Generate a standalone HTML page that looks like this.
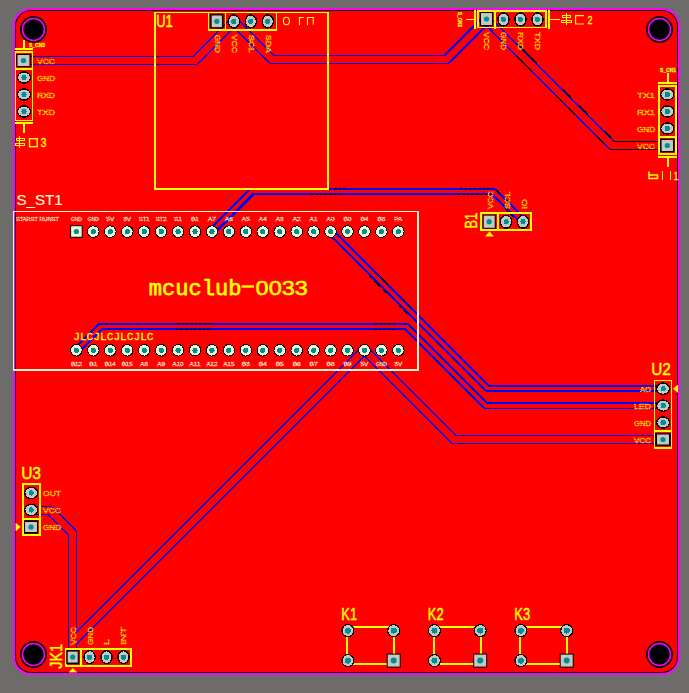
<!DOCTYPE html>
<html><head><meta charset="utf-8"><style>
html,body{margin:0;padding:0;background:#6e6c6b;overflow:hidden}
svg{display:block}
</style></head><body>
<svg width="689" height="693" viewBox="0 0 689 693">
<rect x="0" y="0" width="689" height="693" fill="#6e6c6b"/>
<rect x="13" y="8" width="667" height="667" rx="18" ry="18" fill="#ff00ff"/>
<rect x="15" y="10" width="663" height="663" rx="16" ry="16" fill="#000"/>
<rect x="16" y="11" width="661" height="661" rx="15" ry="15" fill="#ff0000"/>
<path d="M24.00,60.50 L195.00,60.50 L234.00,21.50 L272.00,59.50 L446.50,59.50 L486.50,19.50 L612.00,145.50 L667.50,145.50" fill="none" stroke="#0000ff" stroke-width="9" shape-rendering="crispEdges"/>
<line x1="195.00" y1="60.50" x2="234.00" y2="21.50" stroke="#0000ff" stroke-width="9.9" shape-rendering="crispEdges"/>
<line x1="234.00" y1="21.50" x2="272.00" y2="59.50" stroke="#0000ff" stroke-width="9.9" shape-rendering="crispEdges"/>
<line x1="446.50" y1="59.50" x2="486.50" y2="19.50" stroke="#0000ff" stroke-width="9.9" shape-rendering="crispEdges"/>
<line x1="486.50" y1="19.50" x2="612.00" y2="145.50" stroke="#0000ff" stroke-width="9.9" shape-rendering="crispEdges"/>
<path d="M211.96,231.50 L251.96,191.50 L493.20,191.50 L523.20,221.50" fill="none" stroke="#0000ff" stroke-width="7" shape-rendering="crispEdges"/>
<line x1="211.96" y1="231.50" x2="251.96" y2="191.50" stroke="#0000ff" stroke-width="7.9" shape-rendering="crispEdges"/>
<line x1="493.20" y1="191.50" x2="523.20" y2="221.50" stroke="#0000ff" stroke-width="7.9" shape-rendering="crispEdges"/>
<path d="M330.58,231.50 L487.58,388.50 L663.00,388.50" fill="none" stroke="#0000ff" stroke-width="7" shape-rendering="crispEdges"/>
<line x1="330.58" y1="231.50" x2="487.58" y2="388.50" stroke="#0000ff" stroke-width="7.9" shape-rendering="crispEdges"/>
<path d="M76.40,350.30 L100.20,326.50 L406.60,326.50 L485.80,405.70 L663.00,405.70" fill="none" stroke="#0000ff" stroke-width="7" shape-rendering="crispEdges"/>
<line x1="76.40" y1="350.30" x2="100.20" y2="326.50" stroke="#0000ff" stroke-width="7.9" shape-rendering="crispEdges"/>
<line x1="406.60" y1="326.50" x2="485.80" y2="405.70" stroke="#0000ff" stroke-width="7.9" shape-rendering="crispEdges"/>
<path d="M364.47,350.30 L453.67,439.50 L663.00,439.50" fill="none" stroke="#0000ff" stroke-width="9" shape-rendering="crispEdges"/>
<line x1="364.47" y1="350.30" x2="453.67" y2="439.50" stroke="#0000ff" stroke-width="9.9" shape-rendering="crispEdges"/>
<path d="M364.47,350.30 L72.50,642.27 L72.50,657.50" fill="none" stroke="#0000ff" stroke-width="9" shape-rendering="crispEdges"/>
<line x1="364.47" y1="350.30" x2="72.50" y2="642.27" stroke="#0000ff" stroke-width="9.9" shape-rendering="crispEdges"/>
<path d="M31.00,510.00 L49.50,510.00 L72.50,533.00 L72.50,657.50" fill="none" stroke="#0000ff" stroke-width="9" shape-rendering="crispEdges"/>
<line x1="49.50" y1="510.00" x2="72.50" y2="533.00" stroke="#0000ff" stroke-width="9.9" shape-rendering="crispEdges"/>
<rect x="612" y="141" width="48" height="1" fill="#000"/>
<rect x="610" y="149" width="50" height="1" fill="#000"/>
<line x1="177.0" y1="323.5" x2="179.5" y2="323.5" stroke="#000" stroke-width="1"/>
<line x1="181.5" y1="323.5" x2="184.0" y2="323.5" stroke="#000" stroke-width="1"/>
<line x1="186.0" y1="323.5" x2="188.5" y2="323.5" stroke="#000" stroke-width="1"/>
<line x1="190.5" y1="323.5" x2="193.0" y2="323.5" stroke="#000" stroke-width="1"/>
<line x1="195.0" y1="323.5" x2="197.5" y2="323.5" stroke="#000" stroke-width="1"/>
<line x1="199.5" y1="323.5" x2="202.0" y2="323.5" stroke="#000" stroke-width="1"/>
<line x1="204.0" y1="323.5" x2="206.5" y2="323.5" stroke="#000" stroke-width="1"/>
<line x1="208.5" y1="323.5" x2="211.0" y2="323.5" stroke="#000" stroke-width="1"/>
<line x1="176.0" y1="329.5" x2="178.5" y2="329.5" stroke="#000" stroke-width="1"/>
<line x1="180.5" y1="329.5" x2="183.0" y2="329.5" stroke="#000" stroke-width="1"/>
<line x1="185.0" y1="329.5" x2="187.5" y2="329.5" stroke="#000" stroke-width="1"/>
<line x1="189.5" y1="329.5" x2="192.0" y2="329.5" stroke="#000" stroke-width="1"/>
<line x1="194.0" y1="329.5" x2="196.5" y2="329.5" stroke="#000" stroke-width="1"/>
<line x1="198.5" y1="329.5" x2="201.0" y2="329.5" stroke="#000" stroke-width="1"/>
<line x1="203.0" y1="329.5" x2="205.5" y2="329.5" stroke="#000" stroke-width="1"/>
<line x1="207.5" y1="329.5" x2="210.0" y2="329.5" stroke="#000" stroke-width="1"/>
<line x1="375.0" y1="323.5" x2="377.5" y2="323.5" stroke="#000" stroke-width="1"/>
<line x1="379.5" y1="323.5" x2="382.0" y2="323.5" stroke="#000" stroke-width="1"/>
<line x1="384.0" y1="323.5" x2="386.5" y2="323.5" stroke="#000" stroke-width="1"/>
<line x1="388.5" y1="323.5" x2="391.0" y2="323.5" stroke="#000" stroke-width="1"/>
<line x1="393.0" y1="323.5" x2="395.5" y2="323.5" stroke="#000" stroke-width="1"/>
<line x1="374.0" y1="329.5" x2="376.5" y2="329.5" stroke="#000" stroke-width="1"/>
<line x1="378.5" y1="329.5" x2="381.0" y2="329.5" stroke="#000" stroke-width="1"/>
<line x1="383.0" y1="329.5" x2="385.5" y2="329.5" stroke="#000" stroke-width="1"/>
<line x1="387.5" y1="329.5" x2="390.0" y2="329.5" stroke="#000" stroke-width="1"/>
<line x1="392.0" y1="329.5" x2="394.5" y2="329.5" stroke="#000" stroke-width="1"/>
<line x1="334.0" y1="188.5" x2="336.5" y2="188.5" stroke="#000" stroke-width="1"/>
<line x1="338.5" y1="188.5" x2="341.0" y2="188.5" stroke="#000" stroke-width="1"/>
<line x1="343.0" y1="188.5" x2="345.5" y2="188.5" stroke="#000" stroke-width="1"/>
<line x1="460.0" y1="188.5" x2="462.5" y2="188.5" stroke="#000" stroke-width="1"/>
<line x1="464.5" y1="188.5" x2="467.0" y2="188.5" stroke="#000" stroke-width="1"/>
<line x1="469.0" y1="188.5" x2="471.5" y2="188.5" stroke="#000" stroke-width="1"/>
<line x1="473.5" y1="188.5" x2="476.0" y2="188.5" stroke="#000" stroke-width="1"/>
<line x1="478.0" y1="188.5" x2="480.5" y2="188.5" stroke="#000" stroke-width="1"/>
<line x1="482.5" y1="188.5" x2="485.0" y2="188.5" stroke="#000" stroke-width="1"/>
<line x1="487.0" y1="188.5" x2="489.5" y2="188.5" stroke="#000" stroke-width="1"/>
<line x1="311.0" y1="194.5" x2="313.5" y2="194.5" stroke="#000" stroke-width="1"/>
<line x1="315.5" y1="194.5" x2="318.0" y2="194.5" stroke="#000" stroke-width="1"/>
<line x1="320.0" y1="194.5" x2="322.5" y2="194.5" stroke="#000" stroke-width="1"/>
<line x1="324.5" y1="194.5" x2="327.0" y2="194.5" stroke="#000" stroke-width="1"/>
<line x1="329.0" y1="194.5" x2="331.5" y2="194.5" stroke="#000" stroke-width="1"/>
<line x1="333.5" y1="194.5" x2="336.0" y2="194.5" stroke="#000" stroke-width="1"/>
<line x1="338.0" y1="194.5" x2="340.5" y2="194.5" stroke="#000" stroke-width="1"/>
<line x1="458.0" y1="194.5" x2="460.5" y2="194.5" stroke="#000" stroke-width="1"/>
<line x1="462.5" y1="194.5" x2="465.0" y2="194.5" stroke="#000" stroke-width="1"/>
<line x1="467.0" y1="194.5" x2="469.5" y2="194.5" stroke="#000" stroke-width="1"/>
<line x1="471.5" y1="194.5" x2="474.0" y2="194.5" stroke="#000" stroke-width="1"/>
<line x1="476.0" y1="194.5" x2="478.5" y2="194.5" stroke="#000" stroke-width="1"/>
<line x1="480.5" y1="194.5" x2="483.0" y2="194.5" stroke="#000" stroke-width="1"/>
<line x1="485.0" y1="194.5" x2="487.5" y2="194.5" stroke="#000" stroke-width="1"/>
<line x1="517" y1="43.60000000000002" x2="537" y2="63.60000000000002" stroke="#000" stroke-width="1.2" shape-rendering="crispEdges"/>
<line x1="563" y1="89.60000000000002" x2="571" y2="97.60000000000002" stroke="#000" stroke-width="1.2" shape-rendering="crispEdges"/>
<line x1="579" y1="105.60000000000002" x2="588" y2="114.60000000000002" stroke="#000" stroke-width="1.2" shape-rendering="crispEdges"/>
<line x1="605" y1="131.60000000000002" x2="612" y2="138.60000000000002" stroke="#000" stroke-width="1.2" shape-rendering="crispEdges"/>
<line x1="517" y1="56.39999999999998" x2="531" y2="70.39999999999998" stroke="#000" stroke-width="1.2" shape-rendering="crispEdges"/>
<line x1="556" y1="95.39999999999998" x2="562" y2="101.39999999999998" stroke="#000" stroke-width="1.2" shape-rendering="crispEdges"/>
<line x1="568" y1="107.39999999999998" x2="575" y2="114.39999999999998" stroke="#000" stroke-width="1.2" shape-rendering="crispEdges"/>
<line x1="598" y1="137.39999999999998" x2="603" y2="142.39999999999998" stroke="#000" stroke-width="1.2" shape-rendering="crispEdges"/>
<line x1="369" y1="275.4" x2="371" y2="277.4" stroke="#000" stroke-width="1.2" shape-rendering="crispEdges"/>
<line x1="374" y1="280.4" x2="380" y2="286.4" stroke="#000" stroke-width="1.2" shape-rendering="crispEdges"/>
<line x1="383" y1="289.4" x2="386" y2="292.4" stroke="#000" stroke-width="1.2" shape-rendering="crispEdges"/>
<line x1="399" y1="305.4" x2="401" y2="307.4" stroke="#000" stroke-width="1.2" shape-rendering="crispEdges"/>
<line x1="404" y1="310.4" x2="407" y2="313.4" stroke="#000" stroke-width="1.2" shape-rendering="crispEdges"/>
<line x1="377" y1="273.4" x2="378.5" y2="274.9" stroke="#000" stroke-width="1.2" shape-rendering="crispEdges"/>
<line x1="381" y1="277.4" x2="388" y2="284.4" stroke="#000" stroke-width="1.2" shape-rendering="crispEdges"/>
<line x1="403" y1="299.4" x2="405" y2="301.4" stroke="#000" stroke-width="1.2" shape-rendering="crispEdges"/>
<line x1="408" y1="304.4" x2="410" y2="306.4" stroke="#000" stroke-width="1.2" shape-rendering="crispEdges"/>
<line x1="497" y1="190.39999999999998" x2="500" y2="193.39999999999998" stroke="#000" stroke-width="1.2" shape-rendering="crispEdges"/>
<line x1="506" y1="199.39999999999998" x2="509" y2="202.39999999999998" stroke="#000" stroke-width="1.2" shape-rendering="crispEdges"/>
<line x1="505" y1="208.3" x2="508" y2="211.3" stroke="#000" stroke-width="1.2" shape-rendering="crispEdges"/>
<line x1="510" y1="213.3" x2="513" y2="216.3" stroke="#000" stroke-width="1.2" shape-rendering="crispEdges"/>
<path d="M24.00,60.50 L195.00,60.50 L234.00,21.50 L272.00,59.50 L446.50,59.50 L486.50,19.50 L612.00,145.50 L667.50,145.50" fill="none" stroke="#ff0000" stroke-width="7" shape-rendering="crispEdges"/>
<path d="M211.96,231.50 L251.96,191.50 L493.20,191.50 L523.20,221.50" fill="none" stroke="#ff0000" stroke-width="3.6" shape-rendering="crispEdges"/>
<path d="M330.58,231.50 L487.58,388.50 L663.00,388.50" fill="none" stroke="#ff0000" stroke-width="3.6" shape-rendering="crispEdges"/>
<path d="M76.40,350.30 L100.20,326.50 L406.60,326.50 L485.80,405.70 L663.00,405.70" fill="none" stroke="#ff0000" stroke-width="3.6" shape-rendering="crispEdges"/>
<path d="M364.47,350.30 L453.67,439.50 L663.00,439.50" fill="none" stroke="#ff0000" stroke-width="7" shape-rendering="crispEdges"/>
<path d="M364.47,350.30 L72.50,642.27 L72.50,657.50" fill="none" stroke="#ff0000" stroke-width="7" shape-rendering="crispEdges"/>
<path d="M31.00,510.00 L49.50,510.00 L72.50,533.00 L72.50,657.50" fill="none" stroke="#ff0000" stroke-width="7" shape-rendering="crispEdges"/>
<circle cx="33.5" cy="29.5" r="13.5" fill="#000"/>
<circle cx="33.5" cy="29.5" r="11" fill="none" stroke="#ff00ff" stroke-width="1.6"/>
<circle cx="659.5" cy="29.5" r="13.5" fill="#000"/>
<circle cx="659.5" cy="29.5" r="11" fill="none" stroke="#ff00ff" stroke-width="1.6"/>
<circle cx="33.5" cy="654.5" r="13.5" fill="#000"/>
<circle cx="33.5" cy="654.5" r="11" fill="none" stroke="#ff00ff" stroke-width="1.6"/>
<circle cx="659.5" cy="654.5" r="13.5" fill="#000"/>
<circle cx="659.5" cy="654.5" r="11" fill="none" stroke="#ff00ff" stroke-width="1.6"/>
<rect x="15" y="51" width="18" height="2" fill="#ffff00"/>
<rect x="15" y="120" width="18" height="1" fill="#ffff00"/>
<rect x="15" y="51" width="1" height="70" fill="#ffff00"/>
<rect x="32" y="51" width="1" height="70" fill="#ffff00"/>
<rect x="15" y="68" width="18" height="2" fill="#ffff00"/>
<rect x="15" y="48" width="18" height="2" fill="#ffff00"/>
<rect x="23" y="40" width="2" height="8" fill="#ffff00"/>
<rect x="15" y="122" width="18" height="2" fill="#ffff00"/>
<rect x="23" y="124" width="2" height="9" fill="#ffff00"/>
<rect x="16.20" y="54.00" width="14.6" height="13" fill="#000"/>
<rect x="17.50" y="55.00" width="12" height="11" fill="#c6c6c6"/>
<circle cx="23.5" cy="60.5" r="2.6" fill="#008f8f"/>
<ellipse cx="24" cy="77.5" rx="7.2" ry="6.3" fill="#000" shape-rendering="crispEdges"/>
<ellipse cx="24" cy="77.5" rx="5.8" ry="5.0" fill="#c6c6c6" shape-rendering="crispEdges"/>
<circle cx="24" cy="77.5" r="2.6" fill="#008f8f" shape-rendering="crispEdges"/>
<ellipse cx="24" cy="94.5" rx="7.2" ry="6.3" fill="#000" shape-rendering="crispEdges"/>
<ellipse cx="24" cy="94.5" rx="5.8" ry="5.0" fill="#c6c6c6" shape-rendering="crispEdges"/>
<circle cx="24" cy="94.5" r="2.6" fill="#008f8f" shape-rendering="crispEdges"/>
<ellipse cx="24" cy="111.5" rx="7.2" ry="6.3" fill="#000" shape-rendering="crispEdges"/>
<ellipse cx="24" cy="111.5" rx="5.8" ry="5.0" fill="#c6c6c6" shape-rendering="crispEdges"/>
<circle cx="24" cy="111.5" r="2.6" fill="#008f8f" shape-rendering="crispEdges"/>
<text x="29" y="46.8" font-family="Liberation Sans" font-size="6.2" fill="#ffff00" text-anchor="start" font-weight="bold" stroke="#ffff00" stroke-width="0.3" textLength="16" lengthAdjust="spacingAndGlyphs">S_CN3</text>
<text x="37" y="63.8" font-family="Liberation Sans" font-size="7.6" fill="#ffff00" text-anchor="start" font-weight="normal" textLength="18" lengthAdjust="spacingAndGlyphs" fill-opacity="0.35" stroke="#ffff00" stroke-width="0.55" stroke-dasharray="1.1 0.9">VCC</text>
<text x="37" y="80.8" font-family="Liberation Sans" font-size="7.6" fill="#ffff00" text-anchor="start" font-weight="normal" textLength="18" lengthAdjust="spacingAndGlyphs" fill-opacity="0.35" stroke="#ffff00" stroke-width="0.55" stroke-dasharray="1.1 0.9">GND</text>
<text x="37" y="97.8" font-family="Liberation Sans" font-size="7.6" fill="#ffff00" text-anchor="start" font-weight="normal" textLength="18" lengthAdjust="spacingAndGlyphs" fill-opacity="0.35" stroke="#ffff00" stroke-width="0.55" stroke-dasharray="1.1 0.9">RXD</text>
<text x="37" y="114.8" font-family="Liberation Sans" font-size="7.6" fill="#ffff00" text-anchor="start" font-weight="normal" textLength="18" lengthAdjust="spacingAndGlyphs" fill-opacity="0.35" stroke="#ffff00" stroke-width="0.55" stroke-dasharray="1.1 0.9">TXD</text>
<rect x="19" y="136" width="1" height="12" fill="#ffff00"/>
<rect x="16" y="138" width="9" height="1" fill="#ffff00"/>
<rect x="16" y="140" width="9" height="1" fill="#ffff00"/>
<rect x="16" y="138" width="1" height="3" fill="#ffff00"/>
<rect x="24" y="138" width="1" height="3" fill="#ffff00"/>
<rect x="15" y="143" width="10" height="1" fill="#ffff00"/>
<rect x="15" y="145" width="10" height="1" fill="#ffff00"/>
<rect x="15" y="143" width="1" height="3" fill="#ffff00"/>
<rect x="24" y="143" width="1" height="3" fill="#ffff00"/>
<rect x="29.5" y="138.7" width="7.7" height="8" fill="none" stroke="#ffff00" stroke-width="1.4"/>
<text x="40.5" y="147.3" font-family="Liberation Sans" font-size="12.8" fill="#ffff00" text-anchor="start" font-weight="normal" stroke="#ffff00" stroke-width="0.35" textLength="6" lengthAdjust="spacingAndGlyphs">3</text>
<rect x="154" y="12" width="175" height="1" fill="#ffff00"/>
<rect x="154" y="188" width="175" height="2" fill="#ffff00"/>
<rect x="154" y="12" width="2" height="178" fill="#ffff00"/>
<rect x="327" y="12" width="2" height="178" fill="#ffff00"/>
<text x="156.2" y="27" font-family="Liberation Sans" font-size="16.5" fill="#ffff00" text-anchor="start" font-weight="normal" stroke="#ffff00" stroke-width="0.45" textLength="16.6" lengthAdjust="spacingAndGlyphs">U1</text>
<rect x="208" y="12" width="69" height="1" fill="#ffff00"/>
<rect x="208" y="29" width="69" height="2" fill="#ffff00"/>
<rect x="208" y="12" width="1" height="19" fill="#ffff00"/>
<rect x="276" y="12" width="1" height="19" fill="#ffff00"/>
<rect x="225" y="12" width="1" height="19" fill="#ffff00"/>
<rect x="210.15" y="14.10" width="13.3" height="14.4" fill="#000"/>
<rect x="211.65" y="15.45" width="10.3" height="11.7" fill="#c6c6c6"/>
<circle cx="216.8" cy="21.3" r="2.6" fill="#008f8f"/>
<ellipse cx="233.9" cy="21.4" rx="6.3" ry="7.2" fill="#000" shape-rendering="crispEdges"/>
<ellipse cx="233.9" cy="21.4" rx="5.0" ry="5.8" fill="#c6c6c6" shape-rendering="crispEdges"/>
<circle cx="233.9" cy="21.4" r="2.6" fill="#008f8f" shape-rendering="crispEdges"/>
<ellipse cx="250.8" cy="21.4" rx="6.3" ry="7.2" fill="#000" shape-rendering="crispEdges"/>
<ellipse cx="250.8" cy="21.4" rx="5.0" ry="5.8" fill="#c6c6c6" shape-rendering="crispEdges"/>
<circle cx="250.8" cy="21.4" r="2.6" fill="#008f8f" shape-rendering="crispEdges"/>
<ellipse cx="267.8" cy="21.4" rx="6.3" ry="7.2" fill="#000" shape-rendering="crispEdges"/>
<ellipse cx="267.8" cy="21.4" rx="5.0" ry="5.8" fill="#c6c6c6" shape-rendering="crispEdges"/>
<circle cx="267.8" cy="21.4" r="2.6" fill="#008f8f" shape-rendering="crispEdges"/>
<ellipse cx="286.4" cy="20.9" rx="3" ry="3.7" fill="none" stroke="#ffff00" stroke-width="1.1"/>
<path d="M303.8,17.5 L299.5,17.5 L299.5,25 M307.5,25 L307.5,17.5 L313.3,17.5 L313.3,24.5" fill="none" stroke="#ffff00" stroke-width="1.1"/>
<text x="215.4" y="34.8" font-family="Liberation Sans" font-size="8" fill="#ffff00" text-anchor="start" font-weight="normal" textLength="18" lengthAdjust="spacingAndGlyphs" fill-opacity="0.35" stroke="#ffff00" stroke-width="0.55" stroke-dasharray="1.1 0.9" transform="rotate(90 215.4 34.8)">GND</text>
<text x="232.4" y="34.8" font-family="Liberation Sans" font-size="8" fill="#ffff00" text-anchor="start" font-weight="normal" textLength="18" lengthAdjust="spacingAndGlyphs" fill-opacity="0.35" stroke="#ffff00" stroke-width="0.55" stroke-dasharray="1.1 0.9" transform="rotate(90 232.4 34.8)">VCC</text>
<text x="249.4" y="34.8" font-family="Liberation Sans" font-size="8" fill="#ffff00" text-anchor="start" font-weight="normal" textLength="18" lengthAdjust="spacingAndGlyphs" fill-opacity="0.35" stroke="#ffff00" stroke-width="0.55" stroke-dasharray="1.1 0.9" transform="rotate(90 249.4 34.8)">SCL</text>
<text x="266.4" y="34.8" font-family="Liberation Sans" font-size="8" fill="#ffff00" text-anchor="start" font-weight="normal" textLength="18" lengthAdjust="spacingAndGlyphs" fill-opacity="0.35" stroke="#ffff00" stroke-width="0.55" stroke-dasharray="1.1 0.9" transform="rotate(90 266.4 34.8)">SDA</text>
<rect x="477" y="10" width="70" height="2" fill="#ffff00"/>
<rect x="477" y="27" width="70" height="1" fill="#ffff00"/>
<rect x="477" y="10" width="2" height="18" fill="#ffff00"/>
<rect x="545" y="10" width="2" height="18" fill="#ffff00"/>
<rect x="494" y="10" width="2" height="19" fill="#ffff00"/>
<rect x="474" y="10" width="2" height="19" fill="#ffff00"/>
<rect x="466" y="19" width="8" height="1" fill="#ffff00"/>
<rect x="548" y="10" width="2" height="19" fill="#ffff00"/>
<rect x="550" y="19" width="10" height="1" fill="#ffff00"/>
<rect x="480.00" y="12.00" width="13" height="14" fill="#000"/>
<rect x="481.00" y="13.00" width="11" height="12" fill="#c6c6c6"/>
<circle cx="486.5" cy="19" r="2.6" fill="#008f8f"/>
<ellipse cx="503.5" cy="19.4" rx="6.3" ry="7.2" fill="#000" shape-rendering="crispEdges"/>
<ellipse cx="503.5" cy="19.4" rx="5.0" ry="5.8" fill="#c6c6c6" shape-rendering="crispEdges"/>
<circle cx="503.5" cy="19.4" r="2.6" fill="#008f8f" shape-rendering="crispEdges"/>
<ellipse cx="520.5" cy="19.4" rx="6.3" ry="7.2" fill="#000" shape-rendering="crispEdges"/>
<ellipse cx="520.5" cy="19.4" rx="5.0" ry="5.8" fill="#c6c6c6" shape-rendering="crispEdges"/>
<circle cx="520.5" cy="19.4" r="2.6" fill="#008f8f" shape-rendering="crispEdges"/>
<ellipse cx="537.5" cy="19.4" rx="6.3" ry="7.2" fill="#000" shape-rendering="crispEdges"/>
<ellipse cx="537.5" cy="19.4" rx="5.0" ry="5.8" fill="#c6c6c6" shape-rendering="crispEdges"/>
<circle cx="537.5" cy="19.4" r="2.6" fill="#008f8f" shape-rendering="crispEdges"/>
<rect x="566" y="13" width="1" height="12" fill="#ffff00"/>
<rect x="562" y="15" width="9" height="1" fill="#ffff00"/>
<rect x="562" y="17" width="9" height="1" fill="#ffff00"/>
<rect x="562" y="15" width="1" height="3" fill="#ffff00"/>
<rect x="570" y="15" width="1" height="3" fill="#ffff00"/>
<rect x="561" y="20" width="11" height="1" fill="#ffff00"/>
<rect x="561" y="22" width="11" height="1" fill="#ffff00"/>
<rect x="561" y="20" width="1" height="3" fill="#ffff00"/>
<rect x="571" y="20" width="1" height="3" fill="#ffff00"/>
<path d="M584.0,15.6 L575.6,15.6 L575.6,24.0 L584.0,24.0" fill="none" stroke="#ffff00" stroke-width="1.2"/>
<text x="587.6" y="24.4" font-family="Liberation Sans" font-size="11.8" fill="#ffff00" text-anchor="start" font-weight="normal" stroke="#ffff00" stroke-width="0.3" textLength="5" lengthAdjust="spacingAndGlyphs">2</text>
<text x="458" y="12" font-family="Liberation Sans" font-size="6.2" fill="#ffff00" text-anchor="start" font-weight="bold" stroke="#ffff00" stroke-width="0.3" textLength="15" lengthAdjust="spacingAndGlyphs" transform="rotate(90 458 12)">S_CN2</text>
<text x="483.7" y="32" font-family="Liberation Sans" font-size="8" fill="#ffff00" text-anchor="start" font-weight="normal" textLength="18" lengthAdjust="spacingAndGlyphs" fill-opacity="0.35" stroke="#ffff00" stroke-width="0.55" stroke-dasharray="1.1 0.9" transform="rotate(90 483.7 32)">VCC</text>
<text x="500.7" y="32" font-family="Liberation Sans" font-size="8" fill="#ffff00" text-anchor="start" font-weight="normal" textLength="18" lengthAdjust="spacingAndGlyphs" fill-opacity="0.35" stroke="#ffff00" stroke-width="0.55" stroke-dasharray="1.1 0.9" transform="rotate(90 500.7 32)">GND</text>
<text x="517.7" y="32" font-family="Liberation Sans" font-size="8" fill="#ffff00" text-anchor="start" font-weight="normal" textLength="18" lengthAdjust="spacingAndGlyphs" fill-opacity="0.35" stroke="#ffff00" stroke-width="0.55" stroke-dasharray="1.1 0.9" transform="rotate(90 517.7 32)">RXD</text>
<text x="534.7" y="32" font-family="Liberation Sans" font-size="8" fill="#ffff00" text-anchor="start" font-weight="normal" textLength="18" lengthAdjust="spacingAndGlyphs" fill-opacity="0.35" stroke="#ffff00" stroke-width="0.55" stroke-dasharray="1.1 0.9" transform="rotate(90 534.7 32)">TXD</text>
<rect x="658" y="85" width="19" height="2" fill="#ffff00"/>
<rect x="658" y="153" width="19" height="2" fill="#ffff00"/>
<rect x="658" y="85" width="2" height="70" fill="#ffff00"/>
<rect x="675" y="85" width="2" height="70" fill="#ffff00"/>
<rect x="658" y="136" width="19" height="2" fill="#ffff00"/>
<rect x="658" y="82" width="19" height="2" fill="#ffff00"/>
<rect x="667" y="73" width="2" height="9" fill="#ffff00"/>
<rect x="658" y="156" width="19" height="2" fill="#ffff00"/>
<rect x="667" y="158" width="2" height="9" fill="#ffff00"/>
<ellipse cx="667.3" cy="94.5" rx="7.2" ry="6.3" fill="#000" shape-rendering="crispEdges"/>
<ellipse cx="667.3" cy="94.5" rx="5.8" ry="5.0" fill="#c6c6c6" shape-rendering="crispEdges"/>
<circle cx="667.3" cy="94.5" r="2.6" fill="#008f8f" shape-rendering="crispEdges"/>
<ellipse cx="667.3" cy="111.5" rx="7.2" ry="6.3" fill="#000" shape-rendering="crispEdges"/>
<ellipse cx="667.3" cy="111.5" rx="5.8" ry="5.0" fill="#c6c6c6" shape-rendering="crispEdges"/>
<circle cx="667.3" cy="111.5" r="2.6" fill="#008f8f" shape-rendering="crispEdges"/>
<ellipse cx="667.3" cy="128.5" rx="7.2" ry="6.3" fill="#000" shape-rendering="crispEdges"/>
<ellipse cx="667.3" cy="128.5" rx="5.8" ry="5.0" fill="#c6c6c6" shape-rendering="crispEdges"/>
<circle cx="667.3" cy="128.5" r="2.6" fill="#008f8f" shape-rendering="crispEdges"/>
<rect x="660.05" y="138.75" width="14.5" height="13.5" fill="#000"/>
<rect x="661.60" y="140.00" width="11.4" height="11" fill="#c6c6c6"/>
<circle cx="667.3" cy="145.5" r="2.6" fill="#008f8f"/>
<text x="660" y="72" font-family="Liberation Sans" font-size="6.2" fill="#ffff00" text-anchor="start" font-weight="bold" stroke="#ffff00" stroke-width="0.3" textLength="16" lengthAdjust="spacingAndGlyphs">S_CN1</text>
<text x="655" y="97.8" font-family="Liberation Sans" font-size="7.6" fill="#ffff00" text-anchor="end" font-weight="normal" textLength="18" lengthAdjust="spacingAndGlyphs" fill-opacity="0.35" stroke="#ffff00" stroke-width="0.55" stroke-dasharray="1.1 0.9">TX1</text>
<text x="655" y="114.8" font-family="Liberation Sans" font-size="7.6" fill="#ffff00" text-anchor="end" font-weight="normal" textLength="18" lengthAdjust="spacingAndGlyphs" fill-opacity="0.35" stroke="#ffff00" stroke-width="0.55" stroke-dasharray="1.1 0.9">RX1</text>
<text x="655" y="131.8" font-family="Liberation Sans" font-size="7.6" fill="#ffff00" text-anchor="end" font-weight="normal" textLength="18" lengthAdjust="spacingAndGlyphs" fill-opacity="0.35" stroke="#ffff00" stroke-width="0.55" stroke-dasharray="1.1 0.9">GND</text>
<text x="655" y="148.8" font-family="Liberation Sans" font-size="7.6" fill="#ffff00" text-anchor="end" font-weight="normal" textLength="18" lengthAdjust="spacingAndGlyphs" fill-opacity="0.35" stroke="#ffff00" stroke-width="0.55" stroke-dasharray="1.1 0.9">VCC</text>
<path d="M649,171.5 L649,178.5 L657.5,178.5 L657.5,175 L649,175" fill="none" stroke="#ffff00" stroke-width="1.6"/>
<rect x="662" y="171" width="1" height="9" fill="#ffff00"/>
<rect x="670" y="171" width="1" height="9" fill="#ffff00"/>
<text x="673.5" y="179.5" font-family="Liberation Sans" font-size="11" fill="#ffff00" text-anchor="start" font-weight="normal" stroke="#ffff00" stroke-width="0.3" textLength="5" lengthAdjust="spacingAndGlyphs">1</text>
<rect x="13" y="211" width="406" height="1" fill="#eef5cf"/>
<rect x="13" y="369" width="406" height="2" fill="#eef5cf"/>
<rect x="13" y="211" width="1" height="160" fill="#eef5cf"/>
<rect x="417" y="211" width="2" height="160" fill="#eef5cf"/>
<text x="16.4" y="204.8" font-family="Liberation Sans" font-size="14.6" fill="#eef5cf" text-anchor="start" font-weight="normal" stroke="#eef5cf" stroke-width="0.15" textLength="46.4" lengthAdjust="spacingAndGlyphs">S_ST1</text>
<rect x="70.10" y="225.20" width="12.6" height="12.6" fill="#000"/>
<rect x="71.10" y="226.20" width="10.6" height="10.6" fill="#eef5cf"/>
<circle cx="76.4" cy="231.5" r="2.6" fill="#008f8f"/>
<ellipse cx="76.4" cy="350.3" rx="6.3" ry="6.3" fill="#000" shape-rendering="crispEdges"/>
<ellipse cx="76.4" cy="350.3" rx="5.3" ry="5.3" fill="#eef5cf" shape-rendering="crispEdges"/>
<circle cx="76.4" cy="350.3" r="2.6" fill="#008f8f" shape-rendering="crispEdges"/>
<ellipse cx="93.345" cy="231.6" rx="6.3" ry="6.3" fill="#000" shape-rendering="crispEdges"/>
<ellipse cx="93.345" cy="231.6" rx="5.3" ry="5.3" fill="#eef5cf" shape-rendering="crispEdges"/>
<circle cx="93.345" cy="231.6" r="2.6" fill="#008f8f" shape-rendering="crispEdges"/>
<ellipse cx="93.345" cy="350.3" rx="6.3" ry="6.3" fill="#000" shape-rendering="crispEdges"/>
<ellipse cx="93.345" cy="350.3" rx="5.3" ry="5.3" fill="#eef5cf" shape-rendering="crispEdges"/>
<circle cx="93.345" cy="350.3" r="2.6" fill="#008f8f" shape-rendering="crispEdges"/>
<ellipse cx="110.29" cy="231.6" rx="6.3" ry="6.3" fill="#000" shape-rendering="crispEdges"/>
<ellipse cx="110.29" cy="231.6" rx="5.3" ry="5.3" fill="#eef5cf" shape-rendering="crispEdges"/>
<circle cx="110.29" cy="231.6" r="2.6" fill="#008f8f" shape-rendering="crispEdges"/>
<ellipse cx="110.29" cy="350.3" rx="6.3" ry="6.3" fill="#000" shape-rendering="crispEdges"/>
<ellipse cx="110.29" cy="350.3" rx="5.3" ry="5.3" fill="#eef5cf" shape-rendering="crispEdges"/>
<circle cx="110.29" cy="350.3" r="2.6" fill="#008f8f" shape-rendering="crispEdges"/>
<ellipse cx="127.23500000000001" cy="231.6" rx="6.3" ry="6.3" fill="#000" shape-rendering="crispEdges"/>
<ellipse cx="127.23500000000001" cy="231.6" rx="5.3" ry="5.3" fill="#eef5cf" shape-rendering="crispEdges"/>
<circle cx="127.23500000000001" cy="231.6" r="2.6" fill="#008f8f" shape-rendering="crispEdges"/>
<ellipse cx="127.23500000000001" cy="350.3" rx="6.3" ry="6.3" fill="#000" shape-rendering="crispEdges"/>
<ellipse cx="127.23500000000001" cy="350.3" rx="5.3" ry="5.3" fill="#eef5cf" shape-rendering="crispEdges"/>
<circle cx="127.23500000000001" cy="350.3" r="2.6" fill="#008f8f" shape-rendering="crispEdges"/>
<ellipse cx="144.18" cy="231.6" rx="6.3" ry="6.3" fill="#000" shape-rendering="crispEdges"/>
<ellipse cx="144.18" cy="231.6" rx="5.3" ry="5.3" fill="#eef5cf" shape-rendering="crispEdges"/>
<circle cx="144.18" cy="231.6" r="2.6" fill="#008f8f" shape-rendering="crispEdges"/>
<ellipse cx="144.18" cy="350.3" rx="6.3" ry="6.3" fill="#000" shape-rendering="crispEdges"/>
<ellipse cx="144.18" cy="350.3" rx="5.3" ry="5.3" fill="#eef5cf" shape-rendering="crispEdges"/>
<circle cx="144.18" cy="350.3" r="2.6" fill="#008f8f" shape-rendering="crispEdges"/>
<ellipse cx="161.125" cy="231.6" rx="6.3" ry="6.3" fill="#000" shape-rendering="crispEdges"/>
<ellipse cx="161.125" cy="231.6" rx="5.3" ry="5.3" fill="#eef5cf" shape-rendering="crispEdges"/>
<circle cx="161.125" cy="231.6" r="2.6" fill="#008f8f" shape-rendering="crispEdges"/>
<ellipse cx="161.125" cy="350.3" rx="6.3" ry="6.3" fill="#000" shape-rendering="crispEdges"/>
<ellipse cx="161.125" cy="350.3" rx="5.3" ry="5.3" fill="#eef5cf" shape-rendering="crispEdges"/>
<circle cx="161.125" cy="350.3" r="2.6" fill="#008f8f" shape-rendering="crispEdges"/>
<ellipse cx="178.07" cy="231.6" rx="6.3" ry="6.3" fill="#000" shape-rendering="crispEdges"/>
<ellipse cx="178.07" cy="231.6" rx="5.3" ry="5.3" fill="#eef5cf" shape-rendering="crispEdges"/>
<circle cx="178.07" cy="231.6" r="2.6" fill="#008f8f" shape-rendering="crispEdges"/>
<ellipse cx="178.07" cy="350.3" rx="6.3" ry="6.3" fill="#000" shape-rendering="crispEdges"/>
<ellipse cx="178.07" cy="350.3" rx="5.3" ry="5.3" fill="#eef5cf" shape-rendering="crispEdges"/>
<circle cx="178.07" cy="350.3" r="2.6" fill="#008f8f" shape-rendering="crispEdges"/>
<ellipse cx="195.01500000000001" cy="231.6" rx="6.3" ry="6.3" fill="#000" shape-rendering="crispEdges"/>
<ellipse cx="195.01500000000001" cy="231.6" rx="5.3" ry="5.3" fill="#eef5cf" shape-rendering="crispEdges"/>
<circle cx="195.01500000000001" cy="231.6" r="2.6" fill="#008f8f" shape-rendering="crispEdges"/>
<ellipse cx="195.01500000000001" cy="350.3" rx="6.3" ry="6.3" fill="#000" shape-rendering="crispEdges"/>
<ellipse cx="195.01500000000001" cy="350.3" rx="5.3" ry="5.3" fill="#eef5cf" shape-rendering="crispEdges"/>
<circle cx="195.01500000000001" cy="350.3" r="2.6" fill="#008f8f" shape-rendering="crispEdges"/>
<ellipse cx="211.96" cy="231.6" rx="6.3" ry="6.3" fill="#000" shape-rendering="crispEdges"/>
<ellipse cx="211.96" cy="231.6" rx="5.3" ry="5.3" fill="#eef5cf" shape-rendering="crispEdges"/>
<circle cx="211.96" cy="231.6" r="2.6" fill="#008f8f" shape-rendering="crispEdges"/>
<ellipse cx="211.96" cy="350.3" rx="6.3" ry="6.3" fill="#000" shape-rendering="crispEdges"/>
<ellipse cx="211.96" cy="350.3" rx="5.3" ry="5.3" fill="#eef5cf" shape-rendering="crispEdges"/>
<circle cx="211.96" cy="350.3" r="2.6" fill="#008f8f" shape-rendering="crispEdges"/>
<ellipse cx="228.905" cy="231.6" rx="6.3" ry="6.3" fill="#000" shape-rendering="crispEdges"/>
<ellipse cx="228.905" cy="231.6" rx="5.3" ry="5.3" fill="#eef5cf" shape-rendering="crispEdges"/>
<circle cx="228.905" cy="231.6" r="2.6" fill="#008f8f" shape-rendering="crispEdges"/>
<ellipse cx="228.905" cy="350.3" rx="6.3" ry="6.3" fill="#000" shape-rendering="crispEdges"/>
<ellipse cx="228.905" cy="350.3" rx="5.3" ry="5.3" fill="#eef5cf" shape-rendering="crispEdges"/>
<circle cx="228.905" cy="350.3" r="2.6" fill="#008f8f" shape-rendering="crispEdges"/>
<ellipse cx="245.85" cy="231.6" rx="6.3" ry="6.3" fill="#000" shape-rendering="crispEdges"/>
<ellipse cx="245.85" cy="231.6" rx="5.3" ry="5.3" fill="#eef5cf" shape-rendering="crispEdges"/>
<circle cx="245.85" cy="231.6" r="2.6" fill="#008f8f" shape-rendering="crispEdges"/>
<ellipse cx="245.85" cy="350.3" rx="6.3" ry="6.3" fill="#000" shape-rendering="crispEdges"/>
<ellipse cx="245.85" cy="350.3" rx="5.3" ry="5.3" fill="#eef5cf" shape-rendering="crispEdges"/>
<circle cx="245.85" cy="350.3" r="2.6" fill="#008f8f" shape-rendering="crispEdges"/>
<ellipse cx="262.795" cy="231.6" rx="6.3" ry="6.3" fill="#000" shape-rendering="crispEdges"/>
<ellipse cx="262.795" cy="231.6" rx="5.3" ry="5.3" fill="#eef5cf" shape-rendering="crispEdges"/>
<circle cx="262.795" cy="231.6" r="2.6" fill="#008f8f" shape-rendering="crispEdges"/>
<ellipse cx="262.795" cy="350.3" rx="6.3" ry="6.3" fill="#000" shape-rendering="crispEdges"/>
<ellipse cx="262.795" cy="350.3" rx="5.3" ry="5.3" fill="#eef5cf" shape-rendering="crispEdges"/>
<circle cx="262.795" cy="350.3" r="2.6" fill="#008f8f" shape-rendering="crispEdges"/>
<ellipse cx="279.74" cy="231.6" rx="6.3" ry="6.3" fill="#000" shape-rendering="crispEdges"/>
<ellipse cx="279.74" cy="231.6" rx="5.3" ry="5.3" fill="#eef5cf" shape-rendering="crispEdges"/>
<circle cx="279.74" cy="231.6" r="2.6" fill="#008f8f" shape-rendering="crispEdges"/>
<ellipse cx="279.74" cy="350.3" rx="6.3" ry="6.3" fill="#000" shape-rendering="crispEdges"/>
<ellipse cx="279.74" cy="350.3" rx="5.3" ry="5.3" fill="#eef5cf" shape-rendering="crispEdges"/>
<circle cx="279.74" cy="350.3" r="2.6" fill="#008f8f" shape-rendering="crispEdges"/>
<ellipse cx="296.685" cy="231.6" rx="6.3" ry="6.3" fill="#000" shape-rendering="crispEdges"/>
<ellipse cx="296.685" cy="231.6" rx="5.3" ry="5.3" fill="#eef5cf" shape-rendering="crispEdges"/>
<circle cx="296.685" cy="231.6" r="2.6" fill="#008f8f" shape-rendering="crispEdges"/>
<ellipse cx="296.685" cy="350.3" rx="6.3" ry="6.3" fill="#000" shape-rendering="crispEdges"/>
<ellipse cx="296.685" cy="350.3" rx="5.3" ry="5.3" fill="#eef5cf" shape-rendering="crispEdges"/>
<circle cx="296.685" cy="350.3" r="2.6" fill="#008f8f" shape-rendering="crispEdges"/>
<ellipse cx="313.63" cy="231.6" rx="6.3" ry="6.3" fill="#000" shape-rendering="crispEdges"/>
<ellipse cx="313.63" cy="231.6" rx="5.3" ry="5.3" fill="#eef5cf" shape-rendering="crispEdges"/>
<circle cx="313.63" cy="231.6" r="2.6" fill="#008f8f" shape-rendering="crispEdges"/>
<ellipse cx="313.63" cy="350.3" rx="6.3" ry="6.3" fill="#000" shape-rendering="crispEdges"/>
<ellipse cx="313.63" cy="350.3" rx="5.3" ry="5.3" fill="#eef5cf" shape-rendering="crispEdges"/>
<circle cx="313.63" cy="350.3" r="2.6" fill="#008f8f" shape-rendering="crispEdges"/>
<ellipse cx="330.57500000000005" cy="231.6" rx="6.3" ry="6.3" fill="#000" shape-rendering="crispEdges"/>
<ellipse cx="330.57500000000005" cy="231.6" rx="5.3" ry="5.3" fill="#eef5cf" shape-rendering="crispEdges"/>
<circle cx="330.57500000000005" cy="231.6" r="2.6" fill="#008f8f" shape-rendering="crispEdges"/>
<ellipse cx="330.57500000000005" cy="350.3" rx="6.3" ry="6.3" fill="#000" shape-rendering="crispEdges"/>
<ellipse cx="330.57500000000005" cy="350.3" rx="5.3" ry="5.3" fill="#eef5cf" shape-rendering="crispEdges"/>
<circle cx="330.57500000000005" cy="350.3" r="2.6" fill="#008f8f" shape-rendering="crispEdges"/>
<ellipse cx="347.52" cy="231.6" rx="6.3" ry="6.3" fill="#000" shape-rendering="crispEdges"/>
<ellipse cx="347.52" cy="231.6" rx="5.3" ry="5.3" fill="#eef5cf" shape-rendering="crispEdges"/>
<circle cx="347.52" cy="231.6" r="2.6" fill="#008f8f" shape-rendering="crispEdges"/>
<ellipse cx="347.52" cy="350.3" rx="6.3" ry="6.3" fill="#000" shape-rendering="crispEdges"/>
<ellipse cx="347.52" cy="350.3" rx="5.3" ry="5.3" fill="#eef5cf" shape-rendering="crispEdges"/>
<circle cx="347.52" cy="350.3" r="2.6" fill="#008f8f" shape-rendering="crispEdges"/>
<ellipse cx="364.46500000000003" cy="231.6" rx="6.3" ry="6.3" fill="#000" shape-rendering="crispEdges"/>
<ellipse cx="364.46500000000003" cy="231.6" rx="5.3" ry="5.3" fill="#eef5cf" shape-rendering="crispEdges"/>
<circle cx="364.46500000000003" cy="231.6" r="2.6" fill="#008f8f" shape-rendering="crispEdges"/>
<ellipse cx="364.46500000000003" cy="350.3" rx="6.3" ry="6.3" fill="#000" shape-rendering="crispEdges"/>
<ellipse cx="364.46500000000003" cy="350.3" rx="5.3" ry="5.3" fill="#eef5cf" shape-rendering="crispEdges"/>
<circle cx="364.46500000000003" cy="350.3" r="2.6" fill="#008f8f" shape-rendering="crispEdges"/>
<ellipse cx="381.40999999999997" cy="231.6" rx="6.3" ry="6.3" fill="#000" shape-rendering="crispEdges"/>
<ellipse cx="381.40999999999997" cy="231.6" rx="5.3" ry="5.3" fill="#eef5cf" shape-rendering="crispEdges"/>
<circle cx="381.40999999999997" cy="231.6" r="2.6" fill="#008f8f" shape-rendering="crispEdges"/>
<ellipse cx="381.40999999999997" cy="350.3" rx="6.3" ry="6.3" fill="#000" shape-rendering="crispEdges"/>
<ellipse cx="381.40999999999997" cy="350.3" rx="5.3" ry="5.3" fill="#eef5cf" shape-rendering="crispEdges"/>
<circle cx="381.40999999999997" cy="350.3" r="2.6" fill="#008f8f" shape-rendering="crispEdges"/>
<ellipse cx="398.355" cy="231.6" rx="6.3" ry="6.3" fill="#000" shape-rendering="crispEdges"/>
<ellipse cx="398.355" cy="231.6" rx="5.3" ry="5.3" fill="#eef5cf" shape-rendering="crispEdges"/>
<circle cx="398.355" cy="231.6" r="2.6" fill="#008f8f" shape-rendering="crispEdges"/>
<ellipse cx="398.355" cy="350.3" rx="6.3" ry="6.3" fill="#000" shape-rendering="crispEdges"/>
<ellipse cx="398.355" cy="350.3" rx="5.3" ry="5.3" fill="#eef5cf" shape-rendering="crispEdges"/>
<circle cx="398.355" cy="350.3" r="2.6" fill="#008f8f" shape-rendering="crispEdges"/>
<text x="76.4" y="221" font-family="Liberation Sans" font-size="5" fill="#eef5cf" text-anchor="middle" font-weight="normal" textLength="11" lengthAdjust="spacingAndGlyphs" fill-opacity="0.35" stroke="#eef5cf" stroke-width="0.55" stroke-dasharray="1.1 0.9">GND</text>
<text x="76.4" y="365.8" font-family="Liberation Sans" font-size="5" fill="#eef5cf" text-anchor="middle" font-weight="normal" textLength="11" lengthAdjust="spacingAndGlyphs" fill-opacity="0.35" stroke="#eef5cf" stroke-width="0.55" stroke-dasharray="1.1 0.9">B12</text>
<text x="93.345" y="221" font-family="Liberation Sans" font-size="5" fill="#eef5cf" text-anchor="middle" font-weight="normal" textLength="11" lengthAdjust="spacingAndGlyphs" fill-opacity="0.35" stroke="#eef5cf" stroke-width="0.55" stroke-dasharray="1.1 0.9">GND</text>
<text x="93.345" y="365.8" font-family="Liberation Sans" font-size="5" fill="#eef5cf" text-anchor="middle" font-weight="normal" textLength="8" lengthAdjust="spacingAndGlyphs" fill-opacity="0.35" stroke="#eef5cf" stroke-width="0.55" stroke-dasharray="1.1 0.9">B1</text>
<text x="110.29" y="221" font-family="Liberation Sans" font-size="5" fill="#eef5cf" text-anchor="middle" font-weight="normal" textLength="8" lengthAdjust="spacingAndGlyphs" fill-opacity="0.35" stroke="#eef5cf" stroke-width="0.55" stroke-dasharray="1.1 0.9">5V</text>
<text x="110.29" y="365.8" font-family="Liberation Sans" font-size="5" fill="#eef5cf" text-anchor="middle" font-weight="normal" textLength="11" lengthAdjust="spacingAndGlyphs" fill-opacity="0.35" stroke="#eef5cf" stroke-width="0.55" stroke-dasharray="1.1 0.9">B14</text>
<text x="127.23500000000001" y="221" font-family="Liberation Sans" font-size="5" fill="#eef5cf" text-anchor="middle" font-weight="normal" textLength="8" lengthAdjust="spacingAndGlyphs" fill-opacity="0.35" stroke="#eef5cf" stroke-width="0.55" stroke-dasharray="1.1 0.9">3V</text>
<text x="127.23500000000001" y="365.8" font-family="Liberation Sans" font-size="5" fill="#eef5cf" text-anchor="middle" font-weight="normal" textLength="11" lengthAdjust="spacingAndGlyphs" fill-opacity="0.35" stroke="#eef5cf" stroke-width="0.55" stroke-dasharray="1.1 0.9">B15</text>
<text x="144.18" y="221" font-family="Liberation Sans" font-size="5" fill="#eef5cf" text-anchor="middle" font-weight="normal" textLength="11" lengthAdjust="spacingAndGlyphs" fill-opacity="0.35" stroke="#eef5cf" stroke-width="0.55" stroke-dasharray="1.1 0.9">ST1</text>
<text x="144.18" y="365.8" font-family="Liberation Sans" font-size="5" fill="#eef5cf" text-anchor="middle" font-weight="normal" textLength="8" lengthAdjust="spacingAndGlyphs" fill-opacity="0.35" stroke="#eef5cf" stroke-width="0.55" stroke-dasharray="1.1 0.9">A8</text>
<text x="161.125" y="221" font-family="Liberation Sans" font-size="5" fill="#eef5cf" text-anchor="middle" font-weight="normal" textLength="11" lengthAdjust="spacingAndGlyphs" fill-opacity="0.35" stroke="#eef5cf" stroke-width="0.55" stroke-dasharray="1.1 0.9">ST2</text>
<text x="161.125" y="365.8" font-family="Liberation Sans" font-size="5" fill="#eef5cf" text-anchor="middle" font-weight="normal" textLength="8" lengthAdjust="spacingAndGlyphs" fill-opacity="0.35" stroke="#eef5cf" stroke-width="0.55" stroke-dasharray="1.1 0.9">A9</text>
<text x="178.07" y="221" font-family="Liberation Sans" font-size="5" fill="#eef5cf" text-anchor="middle" font-weight="normal" textLength="8" lengthAdjust="spacingAndGlyphs" fill-opacity="0.35" stroke="#eef5cf" stroke-width="0.55" stroke-dasharray="1.1 0.9">S1</text>
<text x="178.07" y="365.8" font-family="Liberation Sans" font-size="5" fill="#eef5cf" text-anchor="middle" font-weight="normal" textLength="11" lengthAdjust="spacingAndGlyphs" fill-opacity="0.35" stroke="#eef5cf" stroke-width="0.55" stroke-dasharray="1.1 0.9">A10</text>
<text x="195.01500000000001" y="221" font-family="Liberation Sans" font-size="5" fill="#eef5cf" text-anchor="middle" font-weight="normal" textLength="8" lengthAdjust="spacingAndGlyphs" fill-opacity="0.35" stroke="#eef5cf" stroke-width="0.55" stroke-dasharray="1.1 0.9">B1</text>
<text x="195.01500000000001" y="365.8" font-family="Liberation Sans" font-size="5" fill="#eef5cf" text-anchor="middle" font-weight="normal" textLength="11" lengthAdjust="spacingAndGlyphs" fill-opacity="0.35" stroke="#eef5cf" stroke-width="0.55" stroke-dasharray="1.1 0.9">A11</text>
<text x="211.96" y="221" font-family="Liberation Sans" font-size="5" fill="#eef5cf" text-anchor="middle" font-weight="normal" textLength="8" lengthAdjust="spacingAndGlyphs" fill-opacity="0.35" stroke="#eef5cf" stroke-width="0.55" stroke-dasharray="1.1 0.9">A7</text>
<text x="211.96" y="365.8" font-family="Liberation Sans" font-size="5" fill="#eef5cf" text-anchor="middle" font-weight="normal" textLength="11" lengthAdjust="spacingAndGlyphs" fill-opacity="0.35" stroke="#eef5cf" stroke-width="0.55" stroke-dasharray="1.1 0.9">A12</text>
<text x="228.905" y="221" font-family="Liberation Sans" font-size="5" fill="#eef5cf" text-anchor="middle" font-weight="normal" textLength="8" lengthAdjust="spacingAndGlyphs" fill-opacity="0.35" stroke="#eef5cf" stroke-width="0.55" stroke-dasharray="1.1 0.9">A6</text>
<text x="228.905" y="365.8" font-family="Liberation Sans" font-size="5" fill="#eef5cf" text-anchor="middle" font-weight="normal" textLength="11" lengthAdjust="spacingAndGlyphs" fill-opacity="0.35" stroke="#eef5cf" stroke-width="0.55" stroke-dasharray="1.1 0.9">A15</text>
<text x="245.85" y="221" font-family="Liberation Sans" font-size="5" fill="#eef5cf" text-anchor="middle" font-weight="normal" textLength="8" lengthAdjust="spacingAndGlyphs" fill-opacity="0.35" stroke="#eef5cf" stroke-width="0.55" stroke-dasharray="1.1 0.9">A5</text>
<text x="245.85" y="365.8" font-family="Liberation Sans" font-size="5" fill="#eef5cf" text-anchor="middle" font-weight="normal" textLength="8" lengthAdjust="spacingAndGlyphs" fill-opacity="0.35" stroke="#eef5cf" stroke-width="0.55" stroke-dasharray="1.1 0.9">B3</text>
<text x="262.795" y="221" font-family="Liberation Sans" font-size="5" fill="#eef5cf" text-anchor="middle" font-weight="normal" textLength="8" lengthAdjust="spacingAndGlyphs" fill-opacity="0.35" stroke="#eef5cf" stroke-width="0.55" stroke-dasharray="1.1 0.9">A4</text>
<text x="262.795" y="365.8" font-family="Liberation Sans" font-size="5" fill="#eef5cf" text-anchor="middle" font-weight="normal" textLength="8" lengthAdjust="spacingAndGlyphs" fill-opacity="0.35" stroke="#eef5cf" stroke-width="0.55" stroke-dasharray="1.1 0.9">B4</text>
<text x="279.74" y="221" font-family="Liberation Sans" font-size="5" fill="#eef5cf" text-anchor="middle" font-weight="normal" textLength="8" lengthAdjust="spacingAndGlyphs" fill-opacity="0.35" stroke="#eef5cf" stroke-width="0.55" stroke-dasharray="1.1 0.9">A3</text>
<text x="279.74" y="365.8" font-family="Liberation Sans" font-size="5" fill="#eef5cf" text-anchor="middle" font-weight="normal" textLength="8" lengthAdjust="spacingAndGlyphs" fill-opacity="0.35" stroke="#eef5cf" stroke-width="0.55" stroke-dasharray="1.1 0.9">B5</text>
<text x="296.685" y="221" font-family="Liberation Sans" font-size="5" fill="#eef5cf" text-anchor="middle" font-weight="normal" textLength="8" lengthAdjust="spacingAndGlyphs" fill-opacity="0.35" stroke="#eef5cf" stroke-width="0.55" stroke-dasharray="1.1 0.9">A2</text>
<text x="296.685" y="365.8" font-family="Liberation Sans" font-size="5" fill="#eef5cf" text-anchor="middle" font-weight="normal" textLength="8" lengthAdjust="spacingAndGlyphs" fill-opacity="0.35" stroke="#eef5cf" stroke-width="0.55" stroke-dasharray="1.1 0.9">B6</text>
<text x="313.63" y="221" font-family="Liberation Sans" font-size="5" fill="#eef5cf" text-anchor="middle" font-weight="normal" textLength="8" lengthAdjust="spacingAndGlyphs" fill-opacity="0.35" stroke="#eef5cf" stroke-width="0.55" stroke-dasharray="1.1 0.9">A1</text>
<text x="313.63" y="365.8" font-family="Liberation Sans" font-size="5" fill="#eef5cf" text-anchor="middle" font-weight="normal" textLength="8" lengthAdjust="spacingAndGlyphs" fill-opacity="0.35" stroke="#eef5cf" stroke-width="0.55" stroke-dasharray="1.1 0.9">B7</text>
<text x="330.57500000000005" y="221" font-family="Liberation Sans" font-size="5" fill="#eef5cf" text-anchor="middle" font-weight="normal" textLength="8" lengthAdjust="spacingAndGlyphs" fill-opacity="0.35" stroke="#eef5cf" stroke-width="0.55" stroke-dasharray="1.1 0.9">A0</text>
<text x="330.57500000000005" y="365.8" font-family="Liberation Sans" font-size="5" fill="#eef5cf" text-anchor="middle" font-weight="normal" textLength="8" lengthAdjust="spacingAndGlyphs" fill-opacity="0.35" stroke="#eef5cf" stroke-width="0.55" stroke-dasharray="1.1 0.9">B8</text>
<text x="347.52" y="221" font-family="Liberation Sans" font-size="5" fill="#eef5cf" text-anchor="middle" font-weight="normal" textLength="8" lengthAdjust="spacingAndGlyphs" fill-opacity="0.35" stroke="#eef5cf" stroke-width="0.55" stroke-dasharray="1.1 0.9">B0</text>
<text x="347.52" y="365.8" font-family="Liberation Sans" font-size="5" fill="#eef5cf" text-anchor="middle" font-weight="normal" textLength="8" lengthAdjust="spacingAndGlyphs" fill-opacity="0.35" stroke="#eef5cf" stroke-width="0.55" stroke-dasharray="1.1 0.9">B9</text>
<text x="364.46500000000003" y="221" font-family="Liberation Sans" font-size="5" fill="#eef5cf" text-anchor="middle" font-weight="normal" textLength="8" lengthAdjust="spacingAndGlyphs" fill-opacity="0.35" stroke="#eef5cf" stroke-width="0.55" stroke-dasharray="1.1 0.9">B4</text>
<text x="364.46500000000003" y="365.8" font-family="Liberation Sans" font-size="5" fill="#eef5cf" text-anchor="middle" font-weight="normal" textLength="8" lengthAdjust="spacingAndGlyphs" fill-opacity="0.35" stroke="#eef5cf" stroke-width="0.55" stroke-dasharray="1.1 0.9">5V</text>
<text x="381.40999999999997" y="221" font-family="Liberation Sans" font-size="5" fill="#eef5cf" text-anchor="middle" font-weight="normal" textLength="8" lengthAdjust="spacingAndGlyphs" fill-opacity="0.35" stroke="#eef5cf" stroke-width="0.55" stroke-dasharray="1.1 0.9">B3</text>
<text x="381.40999999999997" y="365.8" font-family="Liberation Sans" font-size="5" fill="#eef5cf" text-anchor="middle" font-weight="normal" textLength="11" lengthAdjust="spacingAndGlyphs" fill-opacity="0.35" stroke="#eef5cf" stroke-width="0.55" stroke-dasharray="1.1 0.9">GND</text>
<text x="398.355" y="221" font-family="Liberation Sans" font-size="5" fill="#eef5cf" text-anchor="middle" font-weight="normal" textLength="8" lengthAdjust="spacingAndGlyphs" fill-opacity="0.35" stroke="#eef5cf" stroke-width="0.55" stroke-dasharray="1.1 0.9">PA</text>
<text x="398.355" y="365.8" font-family="Liberation Sans" font-size="5" fill="#eef5cf" text-anchor="middle" font-weight="normal" textLength="8" lengthAdjust="spacingAndGlyphs" fill-opacity="0.35" stroke="#eef5cf" stroke-width="0.55" stroke-dasharray="1.1 0.9">3V</text>
<text x="16" y="221" font-family="Liberation Sans" font-size="5" fill="#eef5cf" text-anchor="start" font-weight="normal" textLength="43" lengthAdjust="spacingAndGlyphs" fill-opacity="0.35" stroke="#eef5cf" stroke-width="0.55" stroke-dasharray="1.1 0.9">STARST RUNST</text>
<text x="148.8" y="294.6" font-family="Liberation Mono" font-size="22.8" fill="#ffff00" stroke="#ffff00" stroke-width="0.75" textLength="92.6" lengthAdjust="spacingAndGlyphs">mcuclub</text>
<rect x="241.6" y="285.3" width="12.4" height="2.4" fill="#ffff00"/>
<text x="255.6" y="294.6" font-family="Liberation Sans" font-size="20.8" fill="#ffff00" stroke="#ffff00" stroke-width="0.55" textLength="52.2" lengthAdjust="spacingAndGlyphs">0033</text>
<text x="73.2" y="339.8" font-family="Liberation Mono" font-size="11.5" fill="#ffff00" stroke="#ffff00" stroke-width="0.3" textLength="80.4" lengthAdjust="spacingAndGlyphs">JLCJLCJLCJLC</text>
<rect x="480" y="212" width="52" height="2" fill="#ffff00"/>
<rect x="480" y="229" width="52" height="2" fill="#ffff00"/>
<rect x="480" y="212" width="2" height="19" fill="#ffff00"/>
<rect x="530" y="212" width="2" height="19" fill="#ffff00"/>
<rect x="497" y="213" width="2" height="18" fill="#ffff00"/>
<rect x="482.70" y="214.70" width="13" height="14" fill="#000"/>
<rect x="483.70" y="215.60" width="11" height="12.2" fill="#c6c6c6"/>
<circle cx="489.2" cy="221.7" r="2.6" fill="#008f8f"/>
<ellipse cx="506.1" cy="221.7" rx="6.3" ry="7.2" fill="#000" shape-rendering="crispEdges"/>
<ellipse cx="506.1" cy="221.7" rx="5.0" ry="5.8" fill="#c6c6c6" shape-rendering="crispEdges"/>
<circle cx="506.1" cy="221.7" r="2.6" fill="#008f8f" shape-rendering="crispEdges"/>
<ellipse cx="523.0" cy="221.7" rx="6.3" ry="7.2" fill="#000" shape-rendering="crispEdges"/>
<ellipse cx="523.0" cy="221.7" rx="5.0" ry="5.8" fill="#c6c6c6" shape-rendering="crispEdges"/>
<circle cx="523.0" cy="221.7" r="2.6" fill="#008f8f" shape-rendering="crispEdges"/>
<polygon points="489.5,231.5 485,236.5 494,236.5" fill="#ffff00"/>
<text x="476.6" y="228.6" font-family="Liberation Sans" font-size="16.5" fill="#ffff00" text-anchor="start" font-weight="normal" stroke="#ffff00" stroke-width="0.45" textLength="15.6" lengthAdjust="spacingAndGlyphs" transform="rotate(-90 476.6 228.6)">B1</text>
<text x="492.9" y="209" font-family="Liberation Sans" font-size="8" fill="#ffff00" text-anchor="start" font-weight="normal" textLength="17.5" lengthAdjust="spacingAndGlyphs" fill-opacity="0.35" stroke="#ffff00" stroke-width="0.55" stroke-dasharray="1.1 0.9" transform="rotate(-90 492.9 209)">VCC</text>
<text x="509.9" y="209" font-family="Liberation Sans" font-size="8" fill="#ffff00" text-anchor="start" font-weight="normal" textLength="17.5" lengthAdjust="spacingAndGlyphs" fill-opacity="0.35" stroke="#ffff00" stroke-width="0.55" stroke-dasharray="1.1 0.9" transform="rotate(-90 509.9 209)">SCL</text>
<text x="526.9000000000001" y="209" font-family="Liberation Sans" font-size="8" fill="#ffff00" text-anchor="start" font-weight="normal" textLength="10" lengthAdjust="spacingAndGlyphs" fill-opacity="0.35" stroke="#ffff00" stroke-width="0.55" stroke-dasharray="1.1 0.9" transform="rotate(-90 526.9000000000001 209)">IO</text>
<rect x="654" y="380" width="18" height="1" fill="#ffff00"/>
<rect x="654" y="447" width="18" height="2" fill="#ffff00"/>
<rect x="654" y="380" width="1" height="69" fill="#ffff00"/>
<rect x="671" y="380" width="1" height="69" fill="#ffff00"/>
<rect x="654" y="430" width="18" height="2" fill="#ffff00"/>
<ellipse cx="663.1" cy="388.7" rx="7.2" ry="6.3" fill="#000" shape-rendering="crispEdges"/>
<ellipse cx="663.1" cy="388.7" rx="5.8" ry="5.0" fill="#c6c6c6" shape-rendering="crispEdges"/>
<circle cx="663.1" cy="388.7" r="2.6" fill="#008f8f" shape-rendering="crispEdges"/>
<ellipse cx="663.1" cy="405.6" rx="7.2" ry="6.3" fill="#000" shape-rendering="crispEdges"/>
<ellipse cx="663.1" cy="405.6" rx="5.8" ry="5.0" fill="#c6c6c6" shape-rendering="crispEdges"/>
<circle cx="663.1" cy="405.6" r="2.6" fill="#008f8f" shape-rendering="crispEdges"/>
<ellipse cx="663.1" cy="422.5" rx="7.2" ry="6.3" fill="#000" shape-rendering="crispEdges"/>
<ellipse cx="663.1" cy="422.5" rx="5.8" ry="5.0" fill="#c6c6c6" shape-rendering="crispEdges"/>
<circle cx="663.1" cy="422.5" r="2.6" fill="#008f8f" shape-rendering="crispEdges"/>
<rect x="655.20" y="433.20" width="15.6" height="12.6" fill="#000"/>
<rect x="657.00" y="434.50" width="12" height="10" fill="#c6c6c6"/>
<circle cx="663" cy="439.5" r="2.6" fill="#008f8f"/>
<text x="651.3" y="375" font-family="Liberation Sans" font-size="16.5" fill="#ffff00" text-anchor="start" font-weight="normal" stroke="#ffff00" stroke-width="0.45" textLength="19.6" lengthAdjust="spacingAndGlyphs">U2</text>
<polygon points="673,388.7 678,384.5 678,393" fill="#ffff00"/>
<text x="651" y="392.0" font-family="Liberation Sans" font-size="7.6" fill="#ffff00" text-anchor="end" font-weight="normal" textLength="11" lengthAdjust="spacingAndGlyphs" fill-opacity="0.35" stroke="#ffff00" stroke-width="0.55" stroke-dasharray="1.1 0.9">AO</text>
<text x="651" y="408.90000000000003" font-family="Liberation Sans" font-size="7.6" fill="#ffff00" text-anchor="end" font-weight="normal" textLength="17" lengthAdjust="spacingAndGlyphs" fill-opacity="0.35" stroke="#ffff00" stroke-width="0.55" stroke-dasharray="1.1 0.9">LED</text>
<text x="651" y="425.8" font-family="Liberation Sans" font-size="7.6" fill="#ffff00" text-anchor="end" font-weight="normal" textLength="17" lengthAdjust="spacingAndGlyphs" fill-opacity="0.35" stroke="#ffff00" stroke-width="0.55" stroke-dasharray="1.1 0.9">GND</text>
<text x="651" y="442.8" font-family="Liberation Sans" font-size="7.6" fill="#ffff00" text-anchor="end" font-weight="normal" textLength="17" lengthAdjust="spacingAndGlyphs" fill-opacity="0.35" stroke="#ffff00" stroke-width="0.55" stroke-dasharray="1.1 0.9">VCC</text>
<rect x="22" y="483" width="19" height="2" fill="#ffff00"/>
<rect x="22" y="534" width="19" height="2" fill="#ffff00"/>
<rect x="22" y="483" width="2" height="53" fill="#ffff00"/>
<rect x="39" y="483" width="2" height="53" fill="#ffff00"/>
<rect x="22" y="518" width="19" height="2" fill="#ffff00"/>
<ellipse cx="31.2" cy="493" rx="7.2" ry="6.3" fill="#000" shape-rendering="crispEdges"/>
<ellipse cx="31.2" cy="493" rx="5.8" ry="5.0" fill="#c6c6c6" shape-rendering="crispEdges"/>
<circle cx="31.2" cy="493" r="2.6" fill="#008f8f" shape-rendering="crispEdges"/>
<ellipse cx="31.2" cy="510" rx="7.2" ry="6.3" fill="#000" shape-rendering="crispEdges"/>
<ellipse cx="31.2" cy="510" rx="5.8" ry="5.0" fill="#c6c6c6" shape-rendering="crispEdges"/>
<circle cx="31.2" cy="510" r="2.6" fill="#008f8f" shape-rendering="crispEdges"/>
<rect x="24.00" y="520.30" width="14" height="13.4" fill="#000"/>
<rect x="25.00" y="522.00" width="12" height="10" fill="#c6c6c6"/>
<circle cx="31" cy="527" r="2.6" fill="#008f8f"/>
<text x="21.2" y="478.9" font-family="Liberation Sans" font-size="16.5" fill="#ffff00" text-anchor="start" font-weight="normal" stroke="#ffff00" stroke-width="0.45" textLength="19.8" lengthAdjust="spacingAndGlyphs">U3</text>
<polygon points="20.5,527 15.5,522.5 15.5,531.5" fill="#ffff00"/>
<text x="43" y="496.3" font-family="Liberation Sans" font-size="7.6" fill="#ffff00" text-anchor="start" font-weight="normal" textLength="18" lengthAdjust="spacingAndGlyphs" fill-opacity="0.35" stroke="#ffff00" stroke-width="0.55" stroke-dasharray="1.1 0.9">OUT</text>
<text x="43" y="513.3" font-family="Liberation Sans" font-size="7.6" fill="#ffff00" text-anchor="start" font-weight="normal" textLength="18" lengthAdjust="spacingAndGlyphs" fill-opacity="0.35" stroke="#ffff00" stroke-width="0.55" stroke-dasharray="1.1 0.9">VCC</text>
<text x="43" y="530.3" font-family="Liberation Sans" font-size="7.6" fill="#ffff00" text-anchor="start" font-weight="normal" textLength="18" lengthAdjust="spacingAndGlyphs" fill-opacity="0.35" stroke="#ffff00" stroke-width="0.55" stroke-dasharray="1.1 0.9">GND</text>
<rect x="65" y="648" width="67" height="2" fill="#ffff00"/>
<rect x="65" y="665" width="67" height="2" fill="#ffff00"/>
<rect x="65" y="648" width="2" height="19" fill="#ffff00"/>
<rect x="130" y="648" width="2" height="19" fill="#ffff00"/>
<rect x="80" y="648" width="2" height="19" fill="#ffff00"/>
<rect x="66.20" y="650.10" width="13" height="14" fill="#000"/>
<rect x="67.70" y="651.60" width="10" height="11" fill="#c6c6c6"/>
<circle cx="72.7" cy="657.1" r="2.6" fill="#008f8f"/>
<ellipse cx="89.6" cy="657.1" rx="6.3" ry="7.2" fill="#000" shape-rendering="crispEdges"/>
<ellipse cx="89.6" cy="657.1" rx="5.0" ry="5.8" fill="#c6c6c6" shape-rendering="crispEdges"/>
<circle cx="89.6" cy="657.1" r="2.6" fill="#008f8f" shape-rendering="crispEdges"/>
<ellipse cx="106.5" cy="657.1" rx="6.3" ry="7.2" fill="#000" shape-rendering="crispEdges"/>
<ellipse cx="106.5" cy="657.1" rx="5.0" ry="5.8" fill="#c6c6c6" shape-rendering="crispEdges"/>
<circle cx="106.5" cy="657.1" r="2.6" fill="#008f8f" shape-rendering="crispEdges"/>
<ellipse cx="123.5" cy="657.1" rx="6.3" ry="7.2" fill="#000" shape-rendering="crispEdges"/>
<ellipse cx="123.5" cy="657.1" rx="5.0" ry="5.8" fill="#c6c6c6" shape-rendering="crispEdges"/>
<circle cx="123.5" cy="657.1" r="2.6" fill="#008f8f" shape-rendering="crispEdges"/>
<polygon points="73,668.3 68.5,672.5 77.5,672.5" fill="#ffff00"/>
<text x="61.8" y="668.8" font-family="Liberation Sans" font-size="16.3" fill="#ffff00" text-anchor="start" font-weight="normal" stroke="#ffff00" stroke-width="0.45" textLength="24.8" lengthAdjust="spacingAndGlyphs" transform="rotate(-90 61.8 668.8)">JK1</text>
<text x="75.60000000000001" y="645" font-family="Liberation Sans" font-size="8" fill="#ffff00" text-anchor="start" font-weight="normal" textLength="18" lengthAdjust="spacingAndGlyphs" fill-opacity="0.35" stroke="#ffff00" stroke-width="0.55" stroke-dasharray="1.1 0.9" transform="rotate(-90 75.60000000000001 645)">VCC</text>
<text x="92.5" y="645" font-family="Liberation Sans" font-size="8" fill="#ffff00" text-anchor="start" font-weight="normal" textLength="18" lengthAdjust="spacingAndGlyphs" fill-opacity="0.35" stroke="#ffff00" stroke-width="0.55" stroke-dasharray="1.1 0.9" transform="rotate(-90 92.5 645)">GND</text>
<text x="109.4" y="645" font-family="Liberation Sans" font-size="8" fill="#ffff00" text-anchor="start" font-weight="normal" textLength="6" lengthAdjust="spacingAndGlyphs" fill-opacity="0.35" stroke="#ffff00" stroke-width="0.55" stroke-dasharray="1.1 0.9" transform="rotate(-90 109.4 645)">L</text>
<text x="126.4" y="645" font-family="Liberation Sans" font-size="8" fill="#ffff00" text-anchor="start" font-weight="normal" textLength="18" lengthAdjust="spacingAndGlyphs" fill-opacity="0.35" stroke="#ffff00" stroke-width="0.55" stroke-dasharray="1.1 0.9" transform="rotate(-90 126.4 645)">INT</text>
<rect x="346" y="626" width="49" height="2" fill="#ffff00"/>
<rect x="346" y="663" width="49" height="2" fill="#ffff00"/>
<rect x="346" y="626" width="2" height="39" fill="#ffff00"/>
<rect x="393" y="626" width="2" height="39" fill="#ffff00"/>
<ellipse cx="347.9" cy="630.6" rx="6.6" ry="6.6" fill="#000" shape-rendering="crispEdges"/>
<ellipse cx="347.9" cy="630.6" rx="5.4" ry="5.4" fill="#c6c6c6" shape-rendering="crispEdges"/>
<circle cx="347.9" cy="630.6" r="3" fill="#008f8f" shape-rendering="crispEdges"/>
<ellipse cx="393.7" cy="630.6" rx="6.6" ry="6.6" fill="#000" shape-rendering="crispEdges"/>
<ellipse cx="393.7" cy="630.6" rx="5.4" ry="5.4" fill="#c6c6c6" shape-rendering="crispEdges"/>
<circle cx="393.7" cy="630.6" r="3" fill="#008f8f" shape-rendering="crispEdges"/>
<ellipse cx="347.9" cy="660.6" rx="6.6" ry="6.6" fill="#000" shape-rendering="crispEdges"/>
<ellipse cx="347.9" cy="660.6" rx="5.4" ry="5.4" fill="#c6c6c6" shape-rendering="crispEdges"/>
<circle cx="347.9" cy="660.6" r="3" fill="#008f8f" shape-rendering="crispEdges"/>
<rect x="386.70" y="653.60" width="14" height="14" fill="#000"/>
<rect x="387.70" y="654.60" width="12" height="12" fill="#c6c6c6"/>
<circle cx="393.7" cy="660.6" r="3" fill="#008f8f"/>
<text x="341.29999999999995" y="619.8" font-family="Liberation Sans" font-size="16.5" fill="#ffff00" text-anchor="start" font-weight="normal" stroke="#ffff00" stroke-width="0.45" textLength="15.8" lengthAdjust="spacingAndGlyphs">K1</text>
<rect x="433" y="626" width="49" height="2" fill="#ffff00"/>
<rect x="433" y="663" width="49" height="2" fill="#ffff00"/>
<rect x="433" y="626" width="2" height="39" fill="#ffff00"/>
<rect x="480" y="626" width="2" height="39" fill="#ffff00"/>
<ellipse cx="434.4" cy="630.6" rx="6.6" ry="6.6" fill="#000" shape-rendering="crispEdges"/>
<ellipse cx="434.4" cy="630.6" rx="5.4" ry="5.4" fill="#c6c6c6" shape-rendering="crispEdges"/>
<circle cx="434.4" cy="630.6" r="3" fill="#008f8f" shape-rendering="crispEdges"/>
<ellipse cx="480.2" cy="630.6" rx="6.6" ry="6.6" fill="#000" shape-rendering="crispEdges"/>
<ellipse cx="480.2" cy="630.6" rx="5.4" ry="5.4" fill="#c6c6c6" shape-rendering="crispEdges"/>
<circle cx="480.2" cy="630.6" r="3" fill="#008f8f" shape-rendering="crispEdges"/>
<ellipse cx="434.4" cy="660.6" rx="6.6" ry="6.6" fill="#000" shape-rendering="crispEdges"/>
<ellipse cx="434.4" cy="660.6" rx="5.4" ry="5.4" fill="#c6c6c6" shape-rendering="crispEdges"/>
<circle cx="434.4" cy="660.6" r="3" fill="#008f8f" shape-rendering="crispEdges"/>
<rect x="473.20" y="653.60" width="14" height="14" fill="#000"/>
<rect x="474.20" y="654.60" width="12" height="12" fill="#c6c6c6"/>
<circle cx="480.2" cy="660.6" r="3" fill="#008f8f"/>
<text x="427.79999999999995" y="619.8" font-family="Liberation Sans" font-size="16.5" fill="#ffff00" text-anchor="start" font-weight="normal" stroke="#ffff00" stroke-width="0.45" textLength="15.8" lengthAdjust="spacingAndGlyphs">K2</text>
<rect x="519" y="626" width="49" height="2" fill="#ffff00"/>
<rect x="519" y="663" width="49" height="2" fill="#ffff00"/>
<rect x="519" y="626" width="2" height="39" fill="#ffff00"/>
<rect x="566" y="626" width="2" height="39" fill="#ffff00"/>
<ellipse cx="520.9" cy="630.6" rx="6.6" ry="6.6" fill="#000" shape-rendering="crispEdges"/>
<ellipse cx="520.9" cy="630.6" rx="5.4" ry="5.4" fill="#c6c6c6" shape-rendering="crispEdges"/>
<circle cx="520.9" cy="630.6" r="3" fill="#008f8f" shape-rendering="crispEdges"/>
<ellipse cx="566.7" cy="630.6" rx="6.6" ry="6.6" fill="#000" shape-rendering="crispEdges"/>
<ellipse cx="566.7" cy="630.6" rx="5.4" ry="5.4" fill="#c6c6c6" shape-rendering="crispEdges"/>
<circle cx="566.7" cy="630.6" r="3" fill="#008f8f" shape-rendering="crispEdges"/>
<ellipse cx="520.9" cy="660.6" rx="6.6" ry="6.6" fill="#000" shape-rendering="crispEdges"/>
<ellipse cx="520.9" cy="660.6" rx="5.4" ry="5.4" fill="#c6c6c6" shape-rendering="crispEdges"/>
<circle cx="520.9" cy="660.6" r="3" fill="#008f8f" shape-rendering="crispEdges"/>
<rect x="559.70" y="653.60" width="14" height="14" fill="#000"/>
<rect x="560.70" y="654.60" width="12" height="12" fill="#c6c6c6"/>
<circle cx="566.7" cy="660.6" r="3" fill="#008f8f"/>
<text x="514.3" y="619.8" font-family="Liberation Sans" font-size="16.5" fill="#ffff00" text-anchor="start" font-weight="normal" stroke="#ffff00" stroke-width="0.45" textLength="15.8" lengthAdjust="spacingAndGlyphs">K3</text>
</svg>
</body></html>
